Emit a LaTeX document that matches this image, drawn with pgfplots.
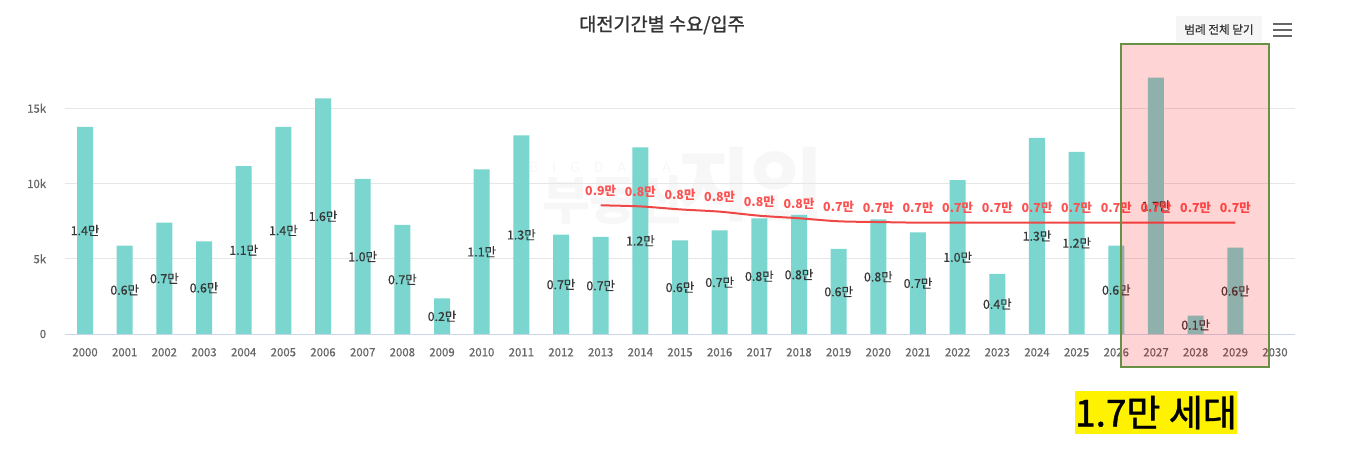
\documentclass[border=0pt]{standalone}
\usepackage{fontspec}
\setmainfont{Noto Sans CJK KR}
\newfontfamily\medfont[FakeBold=1.2]{Noto Sans CJK KR}
\newfontfamily\semifont[FakeBold=0.5]{Noto Sans CJK KR}
\usepackage{pgfplots}
\pgfplotsset{compat=1.18}
\usepackage{pgfplotstable}

\definecolor{barc}{RGB}{122,214,206}
\definecolor{linec}{RGB}{240,70,70}
\definecolor{redlab}{RGB}{252,82,82}
\definecolor{ticklab}{RGB}{102,102,102}
\definecolor{gridc}{RGB}{230,230,230}
\definecolor{axisc}{RGB}{204,214,235}
\definecolor{boxgreen}{RGB}{105,145,70}
\definecolor{barlab}{RGB}{55,55,55}
\definecolor{titlec}{RGB}{51,51,51}
\definecolor{wm}{RGB}{247,247,247}
\definecolor{btn}{RGB}{245,245,245}

\pgfplotstableread{
x y lab
0 13770 1.4만
1 5870 0.6만
2 7400 0.7만
3 6160 0.6만
4 11160 1.1만
5 13770 1.4만
6 15660 1.6만
7 10300 1.0만
8 7260 0.7만
9 2370 0.2만
10 10940 1.1만
11 13200 1.3만
12 6600 0.7만
13 6450 0.7만
14 12400 1.2만
15 6220 0.6만
16 6890 0.7만
17 7690 0.8만
18 7910 0.8만
19 5650 0.6만
20 7620 0.8만
21 6760 0.7만
22 10230 1.0만
23 3990 0.4만
24 13040 1.3만
25 12110 1.2만
26 5870 0.6만
27 17030 1.7만
28 1220 0.1만
29 5740 0.6만
}\barsdata

\pgfplotstableread{
x y lab
13 8550 0.9만
14 8480 0.8만
15 8280 0.8만
16 8130 0.8만
17 7860 0.8만
18 7690 0.8만
19 7490 0.7만
20 7440 0.7만
21 7400 0.7만
22 7400 0.7만
23 7400 0.7만
24 7400 0.7만
25 7400 0.7만
26 7400 0.7만
27 7400 0.7만
28 7400 0.7만
29 7400 0.7만
}\linedata

\begin{document}
\begin{tikzpicture}
\path[use as bounding box] (0,0) rectangle (676.5pt,-226pt);
% watermark
\begin{scope}[x=0.5pt,y=-0.5pt]
\node[text=wm, font=\fontsize{7pt}{8pt}\selectfont] at (600,167) {B\hspace{7pt}I\hspace{7pt}G\hspace{7pt}D\hspace{7pt}A\hspace{7pt}T\hspace{7pt}A};
\node[text=wm, font=\fontsize{26pt}{28pt}\selectfont\bfseries, anchor=west] at (535,200) {부동산};
\node[text=wm, font=\fontsize{40pt}{42pt}\selectfont\bfseries, anchor=west] at (670,185) {지인};
\end{scope}
\begin{axis}[
  at={(32.6pt,-167pt)}, anchor=south west,
  scale only axis, width=614.8pt, height=135.45pt,
  xmin=-0.5, xmax=30.5, ymin=0, ymax=18000,
  enlargelimits=false, clip=false,
  scaled y ticks=false,
  axis x line*=bottom, axis y line*=left,
  x axis line style={draw=axisc, line width=0.5pt, -},
  y axis line style={draw=none},
  ytick={0,5000,10000,15000}, yticklabels={0,5k,10k,15k},
  xtick={0,...,30},
  xticklabels={2000,2001,2002,2003,2004,2005,2006,2007,2008,2009,2010,2011,2012,2013,2014,2015,2016,2017,2018,2019,2020,2021,2022,2023,2024,2025,2026,2027,2028,2029,2030},
  ymajorgrids, major grid style={draw=gridc, line width=0.5pt},
  major tick length=0pt, tick style={draw=none},
  tick label style={font=\semifont\fontsize{5.7pt}{6pt}\selectfont, text=ticklab},
  yticklabel style={xshift=-6pt},
  xticklabel style={yshift=-3.5pt},
  /pgf/number format/assume math mode=true,
]
\addplot[ybar, bar width=8pt, fill=barc, draw=none] table[x=x,y=y] {\barsdata};
\addplot[draw=none, mark=none, nodes near coords, point meta=explicit symbolic,
  nodes near coords style={anchor=center, inner sep=0pt, text=barlab, font=\semifont\fontsize{6.2pt}{7pt}\selectfont}]
  table[x=x, y expr=\thisrow{y}/2, meta=lab] {\barsdata};
\addplot[linec, line width=1pt, smooth, mark=none] table[x=x,y=y] {\linedata};
\addplot[draw=none, mark=none, nodes near coords, point meta=explicit symbolic,
  nodes near coords style={anchor=center, inner sep=0pt, yshift=7.2pt, text=redlab, font=\fontsize{6.2pt}{7pt}\selectfont\bfseries}]
  table[x=x, y=y, meta=lab] {\linedata};
\end{axis}
\begin{scope}[x=0.5pt,y=-0.5pt]
% title
\node[text=titlec, font=\medfont\fontsize{9.3pt}{10pt}\selectfont] at (662,25) {대전기간별 수요/입주};
% button
\fill[btn] (1176,16) rectangle (1262,42);
\node[text=titlec, font=\semifont\fontsize{5.8pt}{6pt}\selectfont] at (1219,29.5) {범례 전체 닫기};
\foreach \yy in {24,30,36} \draw[ticklab, line width=1.3pt] (1273,\yy) -- (1292,\yy);
% highlight box
\fill[red, fill opacity=0.17] (1121,44) rectangle (1269,367);
\draw[boxgreen, line width=1pt] (1121,44) rectangle (1269,367);
% yellow tag
\fill[yellow] (1075,391) rectangle (1237,434);
\node[text=black, font=\medfont\fontsize{18.5pt}{20pt}\selectfont] at (1156,412.5) {1.7만 세대};
\end{scope}
\end{tikzpicture}
\end{document}
